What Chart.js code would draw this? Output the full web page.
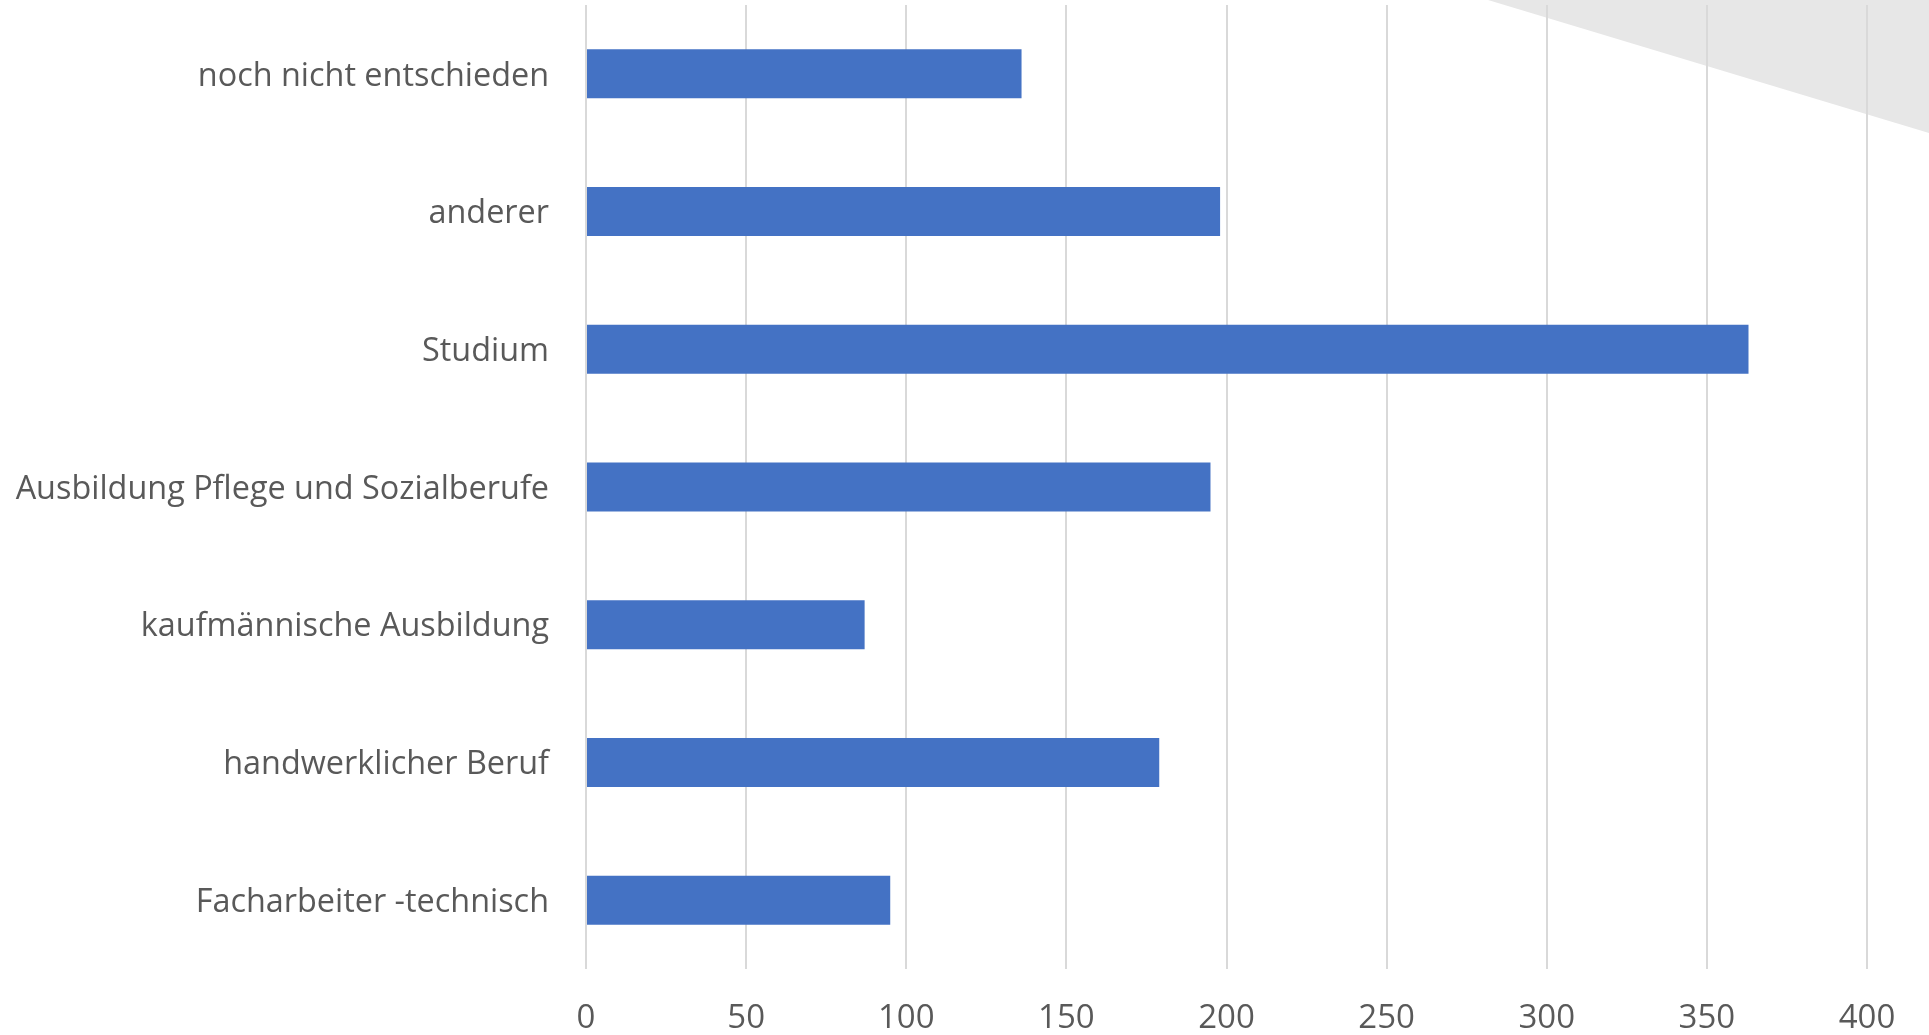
<!DOCTYPE html>
<html>
<head>
<meta charset="utf-8">
<script src="https://cdn.jsdelivr.net/npm/chart.js@4.4.1/dist/chart.umd.min.js"></script>
<style>
  html, body { margin: 0; padding: 0; background: #ffffff; }
  #wrap { width: 1929px; height: 1035px; position: relative; }
</style>
</head>
<body>
<div id="wrap"><canvas id="chart" width="1929" height="1035"></canvas></div>
<script>
// Berufswunsch nach dem Schulabschluss (Anzahl Nennungen)
const categories = [
  'noch nicht entschieden',
  'anderer',
  'Studium',
  'Ausbildung Pflege und Sozialberufe',
  'kaufmännische Ausbildung',
  'handwerklicher Beruf',
  'Facharbeiter -technisch'
];
const counts = [136, 198, 363, 195, 87, 179, 95];
const xTicks = [0, 50, 100, 150, 200, 250, 300, 350, 400];

const textColor = '#595959';
const gridColor = '#d9d9d9';
const barColor = '#4472c4';
const fontFamily = '"Open Sans", "Noto Sans", sans-serif';

// light grey corner wedge in the top right of the slide
const cornerWedge = {
  id: 'cornerWedge',
  beforeDraw(chart) {
    const ctx = chart.ctx;
    const w = chart.width;
    ctx.save();
    ctx.fillStyle = '#e7e7e7';
    ctx.beginPath();
    ctx.moveTo(w - 441, 0);
    ctx.lineTo(w, 0);
    ctx.lineTo(w, 133);
    ctx.closePath();
    ctx.fill();
    ctx.restore();
  }
};

new Chart(document.getElementById('chart'), {
  type: 'bar',
  data: {
    labels: categories,
    datasets: [{
      data: counts,
      backgroundColor: barColor,
      borderWidth: 0,
      categoryPercentage: 1,
      barPercentage: 0.356
    }]
  },
  plugins: [cornerWedge],
  options: {
    indexAxis: 'y',
    responsive: false,
    animation: false,
    layout: { padding: { top: 5, right: 62, left: 0, bottom: 0 } },
    plugins: {
      legend: { display: false },
      tooltip: { enabled: false }
    },
    scales: {
      x: {
        type: 'linear',
        min: xTicks[0],
        max: xTicks[xTicks.length - 1],
        afterBuildTicks(scale) {
          scale.ticks = xTicks.map(v => ({ value: v }));
        },
        afterFit(scale) {
          scale.height = 66;
          scale.paddingLeft = 0;
          scale.paddingRight = 0;
        },
        grid: { color: gridColor, lineWidth: 2, drawTicks: false },
        border: { display: false },
        ticks: {
          color: textColor,
          padding: 30,
          font: { family: fontFamily, size: 33 }
        }
      },
      y: {
        afterFit(scale) {
          scale.width = 586;
          scale.paddingTop = 0;
          scale.paddingBottom = 0;
        },
        grid: { display: false },
        border: { display: false },
        ticks: {
          color: textColor,
          padding: 29,
          labelOffset: 2.5,
          font: { family: fontFamily, size: 32.4 }
        }
      }
    }
  }
});
</script>
</body>
</html>
